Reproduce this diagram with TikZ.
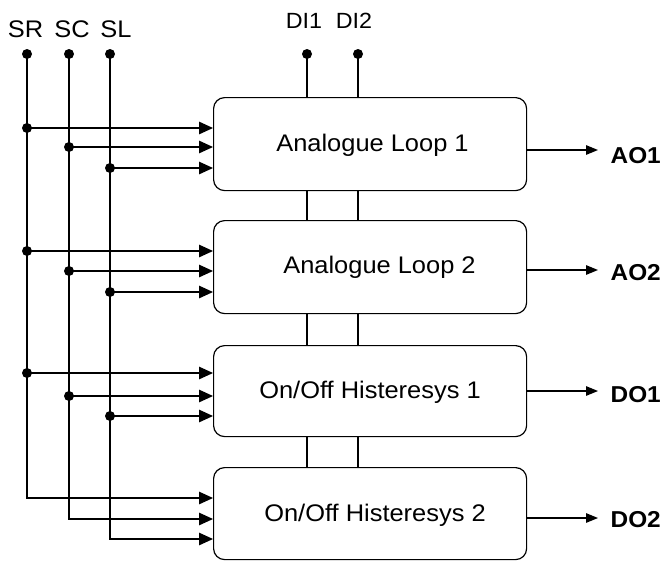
\documentclass[tikz,border=0pt]{standalone}
\usepackage{fontspec}
\setmainfont{Liberation Sans}[FakeStretch=1.06]
\usetikzlibrary{arrows.meta}
\begin{document}
\begin{tikzpicture}[x=1pt,y=-1pt,line width=1.3pt,
  blk/.style={draw,line width=1.2pt,rounded corners=11pt,minimum width=313pt,inner sep=0pt,anchor=north west},
  dotnode/.style={circle,fill,inner sep=0pt,minimum size=10pt},
  boxtxt/.style={anchor=base,inner sep=0pt,font=\fontsize{24}{27}\selectfont},
  toplab/.style={anchor=base,inner sep=0pt,font=\fontsize{24}{27}\selectfont},
  dilab/.style={anchor=base,inner sep=0pt,font=\fontsize{22}{25}\selectfont},
  outlab/.style={anchor=base west,inner sep=0pt,font=\bfseries\fontsize{23}{26}\selectfont},
  inarr/.style={-{Triangle[length=14pt,width=12.5pt]}},
  outarr/.style={-{Triangle[length=12pt,width=9.5pt]}}]
\fill[white] (0,0) rectangle (664,563);
\useasboundingbox (0,0) rectangle (664,563);

% blocks
\node[blk,minimum height=93pt] (b1) at (213,97) {};
\node[blk,minimum height=93pt] (b2) at (213,220) {};
\node[blk,minimum height=91pt] (b3) at (213,345) {};
\node[blk,minimum height=92pt] (b4) at (213,467) {};

\node[boxtxt] (t1) at (372.5,151) {Analogue Loop 1};
\node[boxtxt] (t2) at (379.5,273) {Analogue Loop 2};
\node[boxtxt] (t3) at (370,398) {On/Off Histeresys 1};
\node[boxtxt] (t4) at (375,521) {On/Off Histeresys 2};

% top labels
\node[toplab] (lsr) at (25.5,37) {SR};
\node[toplab] (lsc) at (72,37) {SC};
\node[toplab] (lsl) at (116,37) {SL};
\node[dilab] (ldi1) at (304,28) {DI1};
\node[dilab] (ldi2) at (354,28) {DI2};

% top dots
\node[dotnode] (srT) at (27,54) {};
\node[dotnode] (scT) at (69,54) {};
\node[dotnode] (slT) at (110,54) {};
\node[dotnode] (di1) at (307,54) {};
\node[dotnode] (di2) at (358,54) {};

% junction dots
\node[dotnode] (sr1) at (27,128) {};
\node[dotnode] (sc1) at (69,147) {};
\node[dotnode] (sl1) at (110,168) {};
\node[dotnode] (sr2) at (27,251) {};
\node[dotnode] (sc2) at (69,271) {};
\node[dotnode] (sl2) at (110,292) {};
\node[dotnode] (sr3) at (27,373) {};
\node[dotnode] (sc3) at (69,396) {};
\node[dotnode] (sl3) at (110,416) {};
\coordinate (sr4) at (27,498);
\coordinate (sc4) at (69,519);
\coordinate (sl4) at (110,539);

% bus lines with final corner into block 4
\draw[inarr] (srT.center) -- (sr4) -- (sr4 -| b4.west);
\draw[inarr] (scT.center) -- (sc4) -- (sc4 -| b4.west);
\draw[inarr] (slT.center) -- (sl4) -- (sl4 -| b4.west);

% input arrows
\foreach \j/\b in {sr1/b1,sc1/b1,sl1/b1,sr2/b2,sc2/b2,sl2/b2,sr3/b3,sc3/b3,sl3/b3}
  \draw[inarr] (\j.center) -- (\j -| \b.west);

% DI lines
\foreach \d in {di1,di2}{
  \draw (\d.center) -- (\d |- b1.north);
  \draw (b1.south -| \d) -- (b2.north -| \d);
  \draw (b2.south -| \d) -- (b3.north -| \d);
  \draw (b3.south -| \d) -- (b4.north -| \d);
}

% outputs
\coordinate (o1) at (598,150);
\coordinate (o2) at (598,270);
\coordinate (o3) at (598,391);
\coordinate (o4) at (598,518);
\draw[outarr] (b1.east |- o1) -- (o1);
\draw[outarr] (b2.east |- o2) -- (o2);
\draw[outarr] (b3.east |- o3) -- (o3);
\draw[outarr] (b4.east |- o4) -- (o4);
\node[outlab] (ao1) at (610,163) {AO1};
\node[outlab] (ao2) at (610,280) {AO2};
\node[outlab] (do1) at (610,402) {DO1};
\node[outlab] (do2) at (610,527) {DO2};
\end{tikzpicture}
\end{document}
